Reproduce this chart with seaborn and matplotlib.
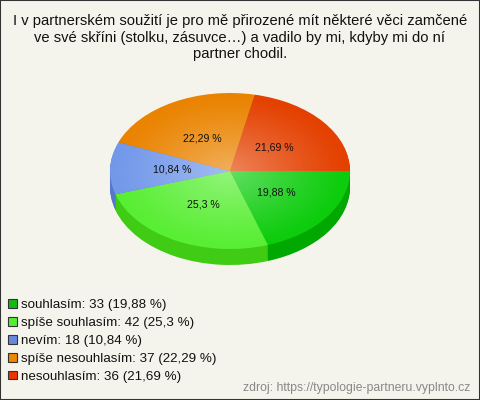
import numpy as np
import matplotlib
matplotlib.use("Agg")
import matplotlib.pyplot as plt
import seaborn as sns
from matplotlib.patches import Ellipse, Rectangle, Patch

sns.set_style("white")
plt.rcParams['font.family'] = ['Liberation Sans', 'DejaVu Sans']

title = "I v partnerském soužití je pro mě přirozené mít některé věci zamčené\nve své skříni (stolku, zásuvce…) a vadilo by mi, kdyby mi do ní\npartner chodil."
categories = ["souhlasím", "spíše souhlasím", "nevím", "spíše nesouhlasím", "nesouhlasím"]
values = [33, 42, 18, 37, 36]
top_colors = ["#0ccc0c", "#58ee33", "#7298ea", "#ea8300", "#e44000"]
side_colors = ["#00a800", "#40cc14", "#5577cc", "#c06a00", "#c03800"]
legend_colors = ["#11bb11", "#55ee33", "#6688dd", "#ee8800", "#ee3300"]
source = "zdroj: https://typologie-partneru.vyplnto.cz"

W, H = 480, 400
bg = "#f5f4ec"
fig = plt.figure(figsize=(W / 100, H / 100), dpi=100, facecolor=bg)
ax = fig.add_axes([0, 0, 1, 1])
ax.set_facecolor("none")

total = sum(values)

def fmt(p):
    s = f"{p:.2f}".rstrip("0").rstrip(".")
    return s.replace(".", ",") + " %"

# pixel geometry
cx, cy, a, b, depth = 230, 171, 120, 78, 16
dz = depth / b
n = 16
for k in range(n, 0, -1):
    ax.pie(values, center=(0, -dz * k / n), radius=1, startangle=0,
           counterclock=False, colors=side_colors,
           wedgeprops=dict(linewidth=0, antialiased=True))

wedges, _, autotexts = ax.pie(values, center=(0, 0), radius=1, startangle=0,
                              counterclock=False, colors=top_colors,
                              autopct=lambda p: fmt(p), pctdistance=0.48,
                              wedgeprops=dict(linewidth=0),
                              textprops=dict(fontsize=7.6, color="#111111", zorder=4))

# radial highlight on top face
yy, xx = np.mgrid[-1:1:300j, -1:1:300j]
r = np.sqrt(xx ** 2 + yy ** 2)
img = np.zeros((300, 300, 4))
img[..., :3] = 1.0
img[..., 3] = np.clip(0.36 * (1 - r) ** 1.2, 0, 1)
im = ax.imshow(img, extent=[-1, 1, -1, 1], origin="lower", zorder=2, interpolation="bilinear")
clip = Ellipse((0, 0), 2, 2, transform=ax.transData, facecolor="none", edgecolor="none")
ax.add_patch(clip)
im.set_clip_path(clip)

ax.set_aspect("auto")
ax.set_xlim(-cx / a, (W - cx) / a)
ax.set_ylim(-(H - cy) / b, cy / b)
ax.axis("off")

fig.text(0.5, 1 - 14 / H, title, ha="center", va="top", fontsize=10.6,
         color="#111111", linespacing=1.24)

handles = [Patch(facecolor=c, edgecolor="#333333", linewidth=0.8) for c in legend_colors]
labels = [f"{c}: {v} ({fmt(v / total * 100)})" for c, v in zip(categories, values)]
leg = fig.legend(handles, labels, loc="upper left", bbox_to_anchor=(3 / W, 1 - 294 / H),
                 frameon=False, fontsize=9.6, handlelength=0.62, handleheight=0.62,
                 handletextpad=0.3, labelspacing=0.44, borderaxespad=0)
for t in leg.get_texts():
    t.set_color("#111111")

fig.text(1 - 10 / W, 1 - 388 / H, source, ha="right", va="center", fontsize=8.8, color="#888888")

fig.patches.append(Rectangle((0, 0), 1, 1, transform=fig.transFigure, fill=False,
                             edgecolor="#333333", linewidth=1.5))

fig.savefig("out.png", dpi=100, facecolor=bg)
